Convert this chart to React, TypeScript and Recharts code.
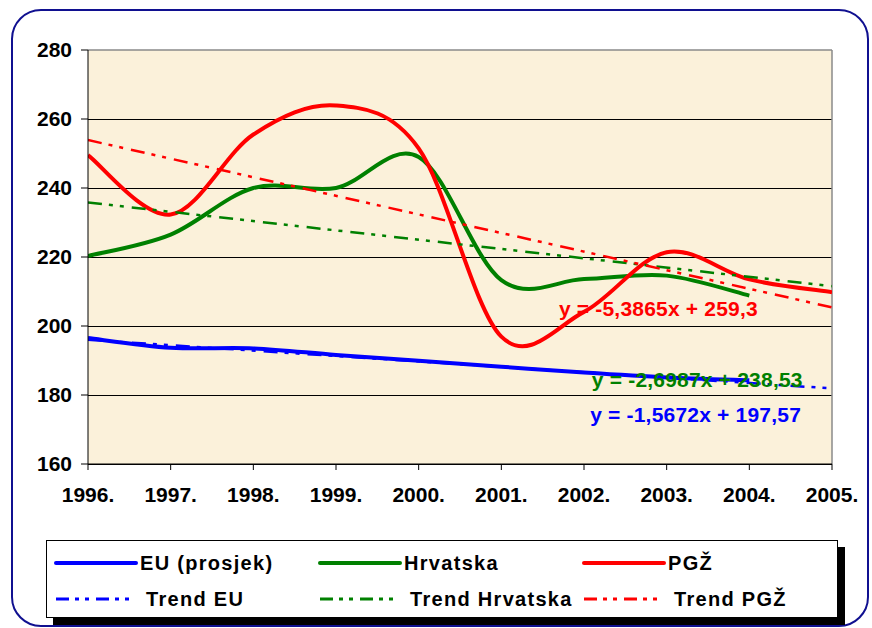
import React from 'react';
import { LineChart, Line, XAxis, YAxis, CartesianGrid, ReferenceLine, ReferenceDot } from 'recharts';

const years = [1996, 1997, 1998, 1999, 2000, 2001, 2002, 2003, 2004, 2005];
const euValues = [196.5, 193.7, 193.5, 191.6, 189.9, 188.2, 186.5, 185.1, 184.3];
const hrvValues = [220.3, 226.5, 240, 240, 249, 213.3, 213.6, 214.6, 208.8];
const pgzValues = [249.5, 232.3, 255.5, 263.9, 251.5, 196.9, 204.1, 221.4, 213.5, 209.8];

const trendYears = [1996, 2005];
const trendEU = [196.0, 181.9];
const trendHrv = [235.8, 211.55];
const trendPgz = [253.9, 205.4];

const yTicks = [160, 180, 200, 220, 240, 260, 280];

const eqPgz = 'y = -5,3865x + 259,3';
const eqHrv = 'y = -2,6987x + 238,53';
const eqEU = 'y = -1,5672x + 197,57';

const toRows = (vals: number[], yrs: number[]) => vals.map((v, i) => ({ year: yrs[i], v }));

const BLUE = '#0000FF';
const GREEN = '#008000';
const RED = '#FF0000';
const FONT = '"Liberation Sans", Arial, sans-serif';
const TREND_DASH = '14 7 4 7 4 8';

// Excel-like smoothed line (Catmull-Rom through points)
const excelSmooth: any = (context: any) => {
  let pts: number[][] = [];
  return {
    areaStart() {},
    areaEnd() {},
    lineStart() { pts = []; },
    point(x: number, y: number) { pts.push([+x, +y]); },
    lineEnd() {
      if (!pts.length) return;
      context.moveTo(pts[0][0], pts[0][1]);
      for (let i = 0; i < pts.length - 1; i++) {
        const p0 = pts[i - 1] || pts[i];
        const p1 = pts[i];
        const p2 = pts[i + 1];
        const p3 = pts[i + 2] || pts[i + 1];
        context.bezierCurveTo(
          p1[0] + (p2[0] - p0[0]) / 6, p1[1] + (p2[1] - p0[1]) / 6,
          p2[0] - (p3[0] - p1[0]) / 6, p2[1] - (p3[1] - p1[1]) / 6,
          p2[0], p2[1]
        );
      }
    },
  };
};

const legendItems = [
  { name: 'EU (prosjek)', color: BLUE, dash: undefined, width: 4 },
  { name: 'Hrvatska', color: GREEN, dash: undefined, width: 4 },
  { name: 'PGŽ', color: RED, dash: undefined, width: 4 },
  { name: 'Trend EU', color: BLUE, dash: '13 6 4 6 4 7', width: 3 },
  { name: 'Trend Hrvatska', color: GREEN, dash: '13 6 4 6 4 7', width: 3 },
  { name: 'Trend PGŽ', color: RED, dash: '13 6 4 6 4 7', width: 3 },
];

const axisStyle = { fontSize: 21, fontWeight: 700, fontFamily: FONT };
const eqStyle = { fontSize: 21, fontWeight: 700, fontFamily: FONT, letterSpacing: 0.2 };

export default function App() {
  return (
    <div style={{ position: 'absolute', left: 0, top: 0, width: 872, height: 628, background: '#fff', fontFamily: FONT }}>
      <div style={{ position: 'absolute', left: 11, top: 9, width: 854, height: 614, border: '2.5px solid #101090', borderRadius: 30 }} />
      <div style={{ position: 'absolute', left: 0, top: 0 }}>
        <LineChart width={872} height={628} margin={{ top: 50, right: 40, bottom: 134, left: 0 }}>
          <CartesianGrid vertical={false} stroke="#000" strokeOpacity={1} fill="#FBF1DA" fillOpacity={1} horizontalValues={[160, 180, 200, 220, 240, 260]} shapeRendering="crispEdges" />
          <XAxis
            dataKey="year"
            type="number"
            domain={[1996, 2005]}
            ticks={years}
            tickFormatter={(y: number) => `${y}.`}
            height={30}
            stroke="#000"
            tickSize={6}
            tickMargin={17}
            tick={{ ...axisStyle, fill: '#000' }}
            interval={0}
            allowDataOverflow
          />
          <YAxis
            type="number"
            domain={[160, 280]}
            ticks={yTicks}
            width={88}
            stroke="#000"
            tickSize={7}
            tickMargin={9}
            tick={{ ...axisStyle, fill: '#000' }}
            interval={0}
          />
          <ReferenceLine y={280} stroke="#8a8a8a" strokeWidth={1.5} />
          <ReferenceLine x={2005} stroke="#8a8a8a" strokeWidth={1.5} />
          <Line data={toRows(euValues, years)} dataKey="v" type={excelSmooth} stroke={BLUE} strokeWidth={4} dot={false} activeDot={false} isAnimationActive={false} strokeLinejoin="round" />
          <Line data={toRows(hrvValues, years)} dataKey="v" type={excelSmooth} stroke={GREEN} strokeWidth={4} dot={false} activeDot={false} isAnimationActive={false} strokeLinejoin="round" />
          <Line data={toRows(pgzValues, years)} dataKey="v" type={excelSmooth} stroke={RED} strokeWidth={4} dot={false} activeDot={false} isAnimationActive={false} strokeLinejoin="round" />
          <Line data={toRows(trendEU, trendYears)} dataKey="v" type="linear" stroke={BLUE} strokeWidth={2.5} strokeDasharray={TREND_DASH} dot={false} activeDot={false} isAnimationActive={false} />
          <Line data={toRows(trendHrv, trendYears)} dataKey="v" type="linear" stroke={GREEN} strokeWidth={2.5} strokeDasharray={TREND_DASH} dot={false} activeDot={false} isAnimationActive={false} />
          <Line data={toRows(trendPgz, trendYears)} dataKey="v" type="linear" stroke={RED} strokeWidth={2.5} strokeDasharray={TREND_DASH} dot={false} activeDot={false} isAnimationActive={false} />
          <ReferenceDot x={2002.9} y={205.2} r={0} stroke="none" fill="none" label={{ value: eqPgz, position: 'center', fill: RED, ...eqStyle }} />
          <ReferenceDot x={2003.37} y={184.35} r={0} stroke="none" fill="none" label={{ value: eqHrv, position: 'center', fill: GREEN, ...eqStyle }} />
          <ReferenceDot x={2003.35} y={174.2} r={0} stroke="none" fill="none" label={{ value: eqEU, position: 'center', fill: BLUE, ...eqStyle }} />
        </LineChart>
      </div>
      <div style={{ position: 'absolute', left: 46, top: 540, width: 790, height: 76, border: '1px solid #000', background: '#fff', boxShadow: '7px 7px 0 #000' }}>
        {legendItems.map((it, i) => {
          const col = i % 3;
          const row = Math.floor(i / 3);
          const left = [7, 271, 535][col];
          const top = row === 0 ? 11 : 47;
          return (
            <div key={it.name} style={{ position: 'absolute', left, top, height: 22, display: 'flex', alignItems: 'center' }}>
              <svg width={84} height={22} style={{ display: 'block' }}>
                <line x1={2} y1={11} x2={row === 0 ? 82 : 76} y2={11} stroke={it.color} strokeWidth={it.width} strokeDasharray={it.dash} strokeLinecap={row === 0 ? 'round' : 'butt'} />
              </svg>
              <span style={{ fontSize: 20, fontWeight: 700, color: '#000', marginLeft: row === 0 ? 2 : 8, whiteSpace: 'nowrap', letterSpacing: 1.3 }}>{it.name}</span>
            </div>
          );
        })}
      </div>
    </div>
  );
}
